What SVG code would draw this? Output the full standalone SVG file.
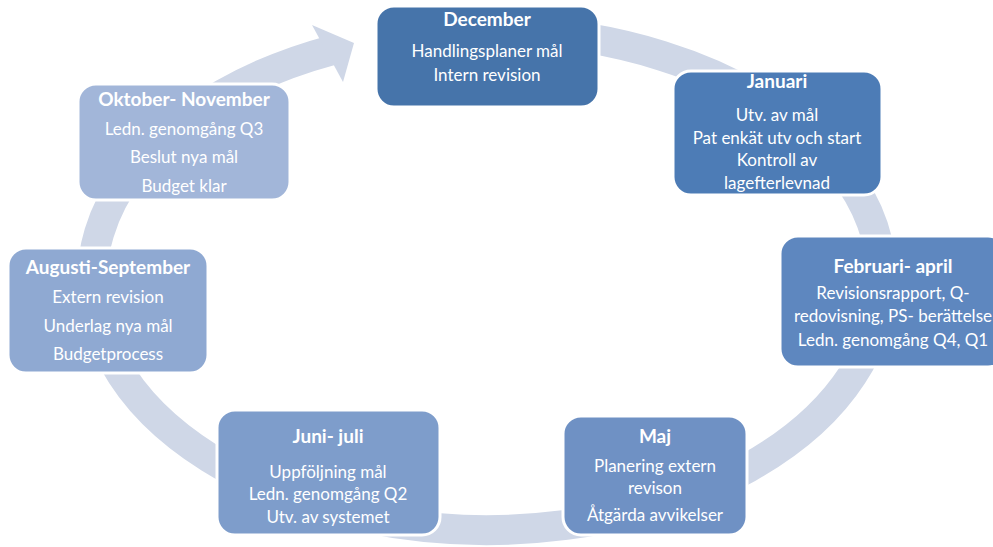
<svg xmlns="http://www.w3.org/2000/svg" width="993" height="547" viewBox="0 0 993 547">
  <style>
    .box { stroke: #ffffff; stroke-width: 3; }
    .ring { fill: none; stroke: #cfd7e7; stroke-width: 30; }
    .head { fill: #cfd7e7; }
    text { font-family: Lato, "Liberation Sans", sans-serif; fill: #ffffff; text-anchor: middle; }
    .title { font-size: 19px; font-weight: bold; }
    .body { font-size: 17px; }
  </style>

  <!-- circular flow connector -->
  <g id="connectors">
    <path class="ring" d="M 487 30 A 395 250 0 1 1 332.7 49.9"/>
    <polygon class="head" points="312,25 354,43 343,82"/>
  </g>

  <g id="december">
    <rect class="box" x="376" y="6" width="223" height="101" rx="18" fill="#4674aa"/>
    <text class="title" x="487" y="26">December</text>
    <text class="body" x="487" y="57">Handlingsplaner mål</text>
    <text class="body" x="487" y="81">Intern revision</text>
  </g>

  <g id="januari">
    <rect class="box" x="673" y="71" width="209" height="124" rx="18" fill="#4d7cb6"/>
    <text class="title" x="777" y="88">Januari</text>
    <text class="body" x="777" y="121">Utv. av mål</text>
    <text class="body" x="777" y="144">Pat enkät utv och start</text>
    <text class="body" x="777" y="166">Kontroll av</text>
    <text class="body" x="777" y="189">lagefterlevnad</text>
  </g>

  <g id="februari-april">
    <rect class="box" x="780" y="236" width="226" height="131" rx="18" fill="#5e87bf"/>
    <text class="title" x="893" y="273">Februari- april</text>
    <text class="body" x="893" y="299">Revisionsrapport, Q-</text>
    <text class="body" x="893" y="322">redovisning, PS- berättelse</text>
    <text class="body" x="893" y="346">Ledn. genomgång Q4, Q1</text>
  </g>

  <g id="maj">
    <rect class="box" x="563" y="416" width="184" height="119" rx="18" fill="#6f91c4"/>
    <text class="title" x="655" y="443">Maj</text>
    <text class="body" x="655" y="472">Planering extern</text>
    <text class="body" x="655" y="494">revison</text>
    <text class="body" x="655" y="521">Åtgärda avvikelser</text>
  </g>

  <g id="juni-juli">
    <rect class="box" x="217" y="410" width="223" height="125" rx="18" fill="#7e9dcb"/>
    <text class="title" x="328" y="443">Juni- juli</text>
    <text class="body" x="328" y="478">Uppföljning mål</text>
    <text class="body" x="328" y="500">Ledn. genomgång Q2</text>
    <text class="body" x="328" y="523">Utv. av systemet</text>
  </g>

  <g id="augusti-september">
    <rect class="box" x="8" y="248" width="200" height="125" rx="18" fill="#8fa9d2"/>
    <text class="title" x="108" y="274">Augusti-September</text>
    <text class="body" x="108" y="303">Extern revision</text>
    <text class="body" x="108" y="332">Underlag nya mål</text>
    <text class="body" x="108" y="360">Budgetprocess</text>
  </g>

  <g id="oktober-november">
    <rect class="box" x="78" y="84" width="212" height="116" rx="18" fill="#a2b6d9"/>
    <text class="title" x="184" y="106">Oktober- November</text>
    <text class="body" x="184" y="135">Ledn. genomgång Q3</text>
    <text class="body" x="184" y="163">Beslut nya mål</text>
    <text class="body" x="184" y="192">Budget klar</text>
  </g>
</svg>
